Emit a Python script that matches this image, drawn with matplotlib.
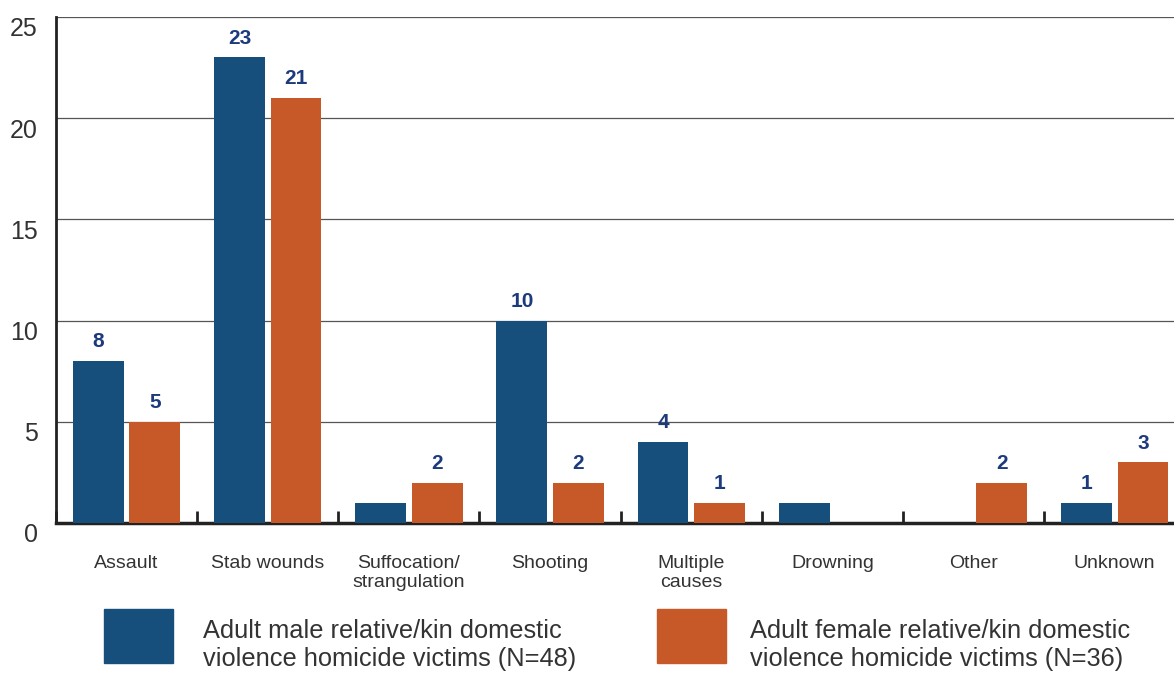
import numpy as np
import matplotlib.pyplot as plt
import matplotlib.transforms as mtransforms
from matplotlib.patches import Rectangle

plt.rcParams['font.family'] = ['Liberation Sans', 'DejaVu Sans']

categories = ['Assault', 'Stab wounds', 'Suffocation/\nstrangulation', 'Shooting',
              'Multiple\ncauses', 'Drowning', 'Other', 'Unknown']
male = [8, 23, 1, 10, 4, 1, 0, 1]
female = [5, 21, 2, 2, 1, 0, 2, 3]
# values printed above the bars (None = not shown in the original)
male_labels = ['8', '23', None, '10', '4', None, None, '1']
female_labels = ['5', '21', '2', '2', '1', None, '2', '3']
legend_labels = ['Adult male relative/kin domestic\nviolence homicide victims (N=48)',
                 'Adult female relative/kin domestic\nviolence homicide victims (N=36)']

blue = '#174f7c'
orange = '#c75828'
label_col = '#1c3a7c'

fig = plt.figure(figsize=(11.74, 6.75), dpi=100)
ax = fig.add_axes([56/1174, 152/675, 1 - 56/1174, 506/675])

x = np.arange(len(categories))
w = 0.36
ax.bar(x - 0.2, male, w, color=blue, zorder=3)
ax.bar(x + 0.2, female, w, color=orange, zorder=3)

for i in range(len(categories)):
    if male_labels[i]:
        ax.annotate(male_labels[i], (x[i] - 0.2, male[i]), xytext=(0, 7),
                    textcoords='offset points', ha='center', va='bottom',
                    fontsize=15, fontweight='bold', color=label_col)
    if female_labels[i]:
        ax.annotate(female_labels[i], (x[i] + 0.2, female[i]), xytext=(0, 7),
                    textcoords='offset points', ha='center', va='bottom',
                    fontsize=15, fontweight='bold', color=label_col)

ax.set_yticks([0, 5, 10, 15, 20, 25])
ax.yaxis.grid(True, color='#555555', linewidth=0.9, zorder=0)
ax.tick_params(axis='y', length=0, labelsize=18, labelcolor='#333333', pad=13)
# y labels sit a little below their gridlines
shift = mtransforms.ScaledTranslation(0, -10/100, fig.dpi_scale_trans)
for lab in ax.get_yticklabels():
    lab.set_transform(lab.get_transform() + shift)

ax.set_xticks(x)
ax.set_xticklabels(categories, fontsize=14, color='#333333', linespacing=1.13)
ax.tick_params(axis='x', which='major', length=0, pad=23)
ax.set_xticks(np.arange(len(categories) + 1) - 0.5, minor=True)
ax.tick_params(axis='x', which='minor', direction='in', length=9, width=2, color='#222222')

# the last category runs slightly off the right edge, as in the original
ax.set_xlim(-0.5, 7.42)
ax.set_ylim(0, 25)

for s in ['top', 'right']:
    ax.spines[s].set_visible(False)
ax.spines['left'].set_linewidth(2)
ax.spines['left'].set_color('#222222')
ax.spines['bottom'].set_linewidth(2.5)
ax.spines['bottom'].set_color('#222222')

# legend drawn by hand below the chart
for col, lab, x0, tx in [(blue, legend_labels[0], 104, 203), (orange, legend_labels[1], 657, 750)]:
    fig.add_artist(Rectangle((x0/1174, 12/675), 69/1174, 54/675,
                             transform=fig.transFigure, color=col))
    fig.text(tx/1174, 30/675, lab, fontsize=18.3, color='#333333', va='center',
             linespacing=1.23)

fig.savefig('out.png', dpi=100)
